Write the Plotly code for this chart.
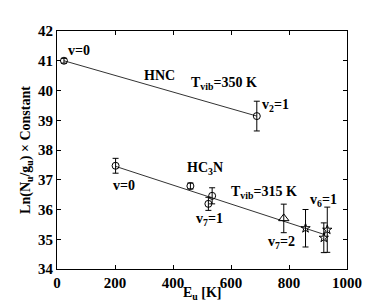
import plotly.graph_objects as go

# HNC data
hnc_x = [24, 689]
hnc_y = [41.0, 39.14]
hnc_err = [0.08, 0.5]
hnc_fit_x = [24, 689]
hnc_fit_y = [41.0, 39.14]

# HC3N data
hc3n_circ_x = [202, 460, 522, 535]
hc3n_circ_y = [37.47, 36.79, 36.19, 36.46]
hc3n_circ_err = [0.25, 0.1, 0.22, 0.27]
hc3n_tri_x = [782]
hc3n_tri_y = [35.70]
hc3n_tri_err = [0.48]
hc3n_star_x = [857, 920, 932]
hc3n_star_y = [35.37, 35.05, 35.32]
hc3n_star_err = [0.63, 0.5, 0.76]
hc3n_fit_x = [202, 925]
hc3n_fit_y = [37.45, 35.15]

# annotations: (x, y, text)
labels_x = [76, 355, 575, 752, 232, 511, 527, 715, 920, 773]
labels_y = [41.36, 40.49, 40.24, 39.5, 36.8, 37.38, 35.66, 36.58, 36.31, 34.9]
labels_t = ["v=0", "HNC", "T<sub>vib</sub>=350 K", "v<sub>2</sub>=1", "v=0",
            "HC<sub>3</sub>N", "v<sub>7</sub>=1", "T<sub>vib</sub>=315 K",
            "v<sub>6</sub>=1", "v<sub>7</sub>=2"]

font = dict(family="Liberation Serif", size=14, color="black")
lc = "#333333"

fig = go.Figure()
fig.add_trace(go.Scatter(x=hnc_fit_x, y=hnc_fit_y, mode="lines",
                         line=dict(color=lc, width=1), showlegend=False))
fig.add_trace(go.Scatter(x=hc3n_fit_x, y=hc3n_fit_y, mode="lines",
                         line=dict(color=lc, width=1), showlegend=False))

def pts(x, y, e, sym, size):
    fig.add_trace(go.Scatter(
        x=x, y=y, mode="markers",
        marker=dict(symbol=sym, size=size, color="black",
                    line=dict(color="black", width=1)),
        error_y=dict(type="data", array=e, color="black", thickness=1, width=3),
        showlegend=False))

pts(hnc_x, hnc_y, hnc_err, "circle-open", 7)
pts(hc3n_circ_x, hc3n_circ_y, hc3n_circ_err, "circle-open", 7)
pts(hc3n_tri_x, hc3n_tri_y, hc3n_tri_err, "triangle-up-open", 9)
pts(hc3n_star_x, hc3n_star_y, hc3n_star_err, "star-open", 7)

for x, y, t in zip(labels_x, labels_y, labels_t):
    fig.add_annotation(x=x, y=y, text="<b>" + t + "</b>", showarrow=False,
                       font=dict(family="Liberation Serif", size=14, color="black"),
                       xanchor="center", yanchor="middle")

# x-axis title as annotation
fig.add_annotation(x=0.5, y=-0.105, xref="paper", yref="paper",
                   text="<b>E<sub>u</sub> [K]</b>", showarrow=False, font=font,
                   xanchor="center", yanchor="middle")

axis_common = dict(showline=True, linecolor="black", linewidth=1, mirror="ticks",
                   ticks="inside", ticklen=4, tickcolor="black", showgrid=False,
                   zeroline=False, automargin=False,
                   tickfont=dict(family="Liberation Serif", size=15, color="black"))

fig.update_xaxes(range=[0, 1000], tickvals=[0, 200, 400, 600, 800, 1000],
                 ticktext=["<b>%d</b>" % v for v in [0, 200, 400, 600, 800, 1000]],
                 **axis_common)
fig.update_yaxes(range=[34, 42], tickvals=list(range(34, 43)),
                 ticktext=["<b>%d</b>" % v for v in range(34, 43)],
                 title=dict(text="<b>Ln(N<sub>u</sub>/g<sub>u</sub>) × Constant</b>", font=font, standoff=4),
                 **axis_common)

fig.update_layout(width=374, height=306, margin=dict(l=49, r=35, t=23, b=45),
                  plot_bgcolor="white", paper_bgcolor="white")

fig.write_html("out.html")
